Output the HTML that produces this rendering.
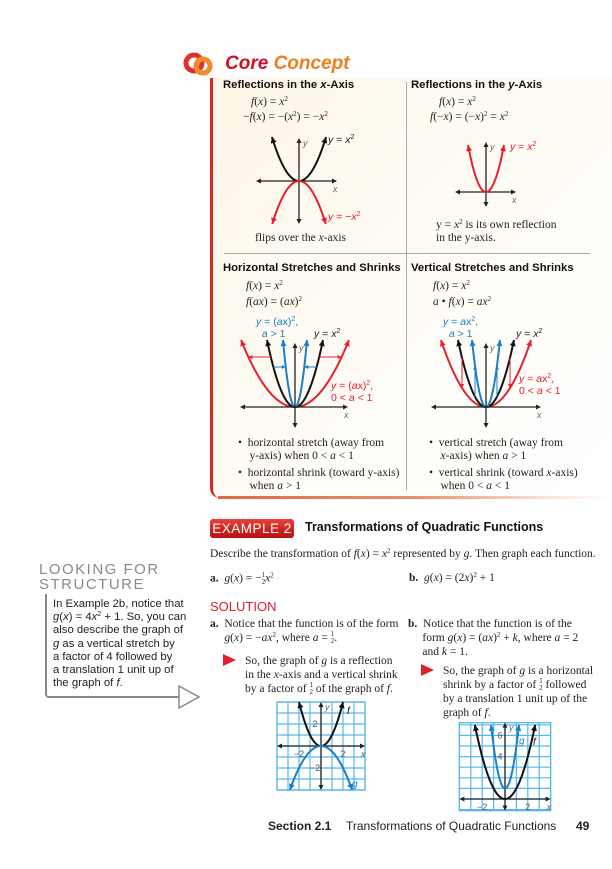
<!DOCTYPE html>
<html><head><meta charset="utf-8">
<style>
body{margin:0;width:612px;height:869px;position:relative;background:#fff;overflow:hidden;font-family:"Liberation Serif",serif;color:#222}
.t{position:absolute;white-space:nowrap;font-size:11.5px;line-height:13px}
.s{font-family:"Liberation Sans",sans-serif}
.h{font-family:"Liberation Sans",sans-serif;font-weight:bold;font-size:11.3px;color:#111}
.lbl{font-family:"Liberation Sans",sans-serif;font-size:10.5px;line-height:12px}
.red{color:#e8202e}.blue{color:#1a7fc8}
i{font-style:italic}
sup{font-size:7px;vertical-align:4px;line-height:0}
.fr{display:inline-block;font-size:7px;line-height:7px;vertical-align:middle;text-align:center}
</style></head><body>
<div style="position:absolute;left:210px;top:78px;width:402px;height:420px;background:linear-gradient(135deg,#fdf6e8,#fffdf8 60%,#fff);border-left:3px solid #d8281c;border-bottom-left-radius:10px"></div>
<div style="position:absolute;left:218px;top:496px;width:394px;height:3px;background:linear-gradient(90deg,#e06a40,#e89070 50%,#fbe6dc 85%,#fff)"></div>
<div style="position:absolute;left:406px;top:82px;width:1px;height:408px;background:#aaa"></div>
<div style="position:absolute;left:224px;top:253px;width:366px;height:1px;background:#aaa"></div>

<svg style="position:absolute;left:183px;top:50px" width="40" height="30"><circle cx="11" cy="13" r="8" fill="none" stroke="#e0302a" stroke-width="5"/><circle cx="20" cy="16" r="7" fill="none" stroke="#f08a2a" stroke-width="5"/></svg>
<div class="t" style="left:225px;top:52px;font-family:'Liberation Sans',sans-serif;font-weight:bold;font-style:italic;font-size:19px;line-height:24px"><span style="color:#d0102a">Core</span> <span style="color:#f07c1c">Concept</span></div>

<div class="t h" style="left:223px;top:79px">Reflections in the <i>x</i>-Axis</div>
<div class="t h" style="left:411px;top:79px">Reflections in the <i>y</i>-Axis</div>
<div class="t" style="left:251px;top:96px"><i>f</i>(<i>x</i>) = <i>x</i><sup>2</sup></div>
<div class="t" style="left:243px;top:111px">−<i>f</i>(<i>x</i>) = −(<i>x</i><sup>2</sup>) = −<i>x</i><sup>2</sup></div>
<div class="t" style="left:439px;top:96px"><i>f</i>(<i>x</i>) = <i>x</i><sup>2</sup></div>
<div class="t" style="left:430px;top:111px"><i>f</i>(−<i>x</i>) = (−<i>x</i>)<sup>2</sup> = <i>x</i><sup>2</sup></div>
<div class="t" style="left:255px;top:232px">flips over the <i>x</i>-axis</div>
<div class="t" style="left:436px;top:219px">y = <i>x</i><sup>2</sup> is its own reflection<br>in the y-axis.</div>

<div class="t lbl" style="left:328px;top:134px"><i>y</i> = <i>x</i><sup>2</sup></div>
<div class="t lbl red" style="left:328px;top:211px"><i>y</i> = −<i>x</i><sup>2</sup></div>
<div class="t lbl red" style="left:510px;top:141px"><i>y</i> = <i>x</i><sup>2</sup></div>

<div class="t h" style="left:223px;top:262px">Horizontal Stretches and Shrinks</div>
<div class="t h" style="left:411px;top:262px">Vertical Stretches and Shrinks</div>
<div class="t" style="left:246px;top:280px"><i>f</i>(<i>x</i>) = <i>x</i><sup>2</sup></div>
<div class="t" style="left:246px;top:296px"><i>f</i>(<i>ax</i>) = (<i>ax</i>)<sup>2</sup></div>
<div class="t" style="left:433px;top:280px"><i>f</i>(<i>x</i>) = <i>x</i><sup>2</sup></div>
<div class="t" style="left:433px;top:296px"><i>a</i> • <i>f</i>(<i>x</i>) = <i>ax</i><sup>2</sup></div>

<div class="t lbl blue" style="left:256px;top:316px"><i>y</i> = (<i>a</i>x)<sup>2</sup>,<br>&nbsp;&nbsp;<i>a</i> &gt; 1</div>
<div class="t lbl" style="left:314px;top:328px"><i>y</i> = <i>x</i><sup>2</sup></div>
<div class="t lbl red" style="left:331px;top:380px"><i>y</i> = (<i>a</i>x)<sup>2</sup>,<br>0 &lt; <i>a</i> &lt; 1</div>
<div class="t lbl blue" style="left:443px;top:316px"><i>y</i> = <i>a</i>x<sup>2</sup>,<br>&nbsp;&nbsp;<i>a</i> &gt; 1</div>
<div class="t lbl" style="left:516px;top:328px"><i>y</i> = <i>x</i><sup>2</sup></div>
<div class="t lbl red" style="left:519px;top:373px"><i>y</i> = <i>a</i>x<sup>2</sup>,<br>0 &lt; <i>a</i> &lt; 1</div>

<div class="t" style="left:238px;top:437px">•&nbsp; horizontal stretch (away from<br>&nbsp;&nbsp;&nbsp;&nbsp;y-axis) when 0 &lt; <i>a</i> &lt; 1</div>
<div class="t" style="left:238px;top:467px">•&nbsp; horizontal shrink (toward y-axis)<br>&nbsp;&nbsp;&nbsp;&nbsp;when <i>a</i> &gt; 1</div>
<div class="t" style="left:429px;top:437px">•&nbsp; vertical stretch (away from<br>&nbsp;&nbsp;&nbsp;&nbsp;<i>x</i>-axis) when <i>a</i> &gt; 1</div>
<div class="t" style="left:429px;top:467px">•&nbsp; vertical shrink (toward <i>x</i>-axis)<br>&nbsp;&nbsp;&nbsp;&nbsp;when 0 &lt; <i>a</i> &lt; 1</div>

<div class="t s" style="left:210px;top:519px;width:84px;height:19px;line-height:19px;text-align:center;background:linear-gradient(#e8403a,#b8100e);color:#fff;font-size:13.5px;border-radius:3px;letter-spacing:0.5px">EXAMPLE 2</div>
<div class="t h" style="left:305px;top:521px;font-size:12.5px">Transformations of Quadratic Functions</div>
<div class="t" style="left:210px;top:548px">Describe the transformation of <i>f</i>(<i>x</i>) = <i>x</i><sup>2</sup> represented by <i>g</i>. Then graph each function.</div>
<div class="t" style="left:210px;top:572px"><b>a.</b>&nbsp; <i>g</i>(<i>x</i>) = −<span class="fr">1<br>2</span><i>x</i><sup>2</sup></div>
<div class="t" style="left:409px;top:572px"><b>b.</b>&nbsp; <i>g</i>(<i>x</i>) = (2<i>x</i>)<sup>2</sup> + 1</div>
<div class="t s" style="left:210px;top:599px;color:#e0202a;font-size:13px;line-height:15px">SOLUTION</div>
<div class="t" style="left:210px;top:617px;line-height:14px"><b>a.</b>&nbsp; Notice that the function is of the form<br>&nbsp;&nbsp;&nbsp;&nbsp;&nbsp;<i>g</i>(<i>x</i>) = −<i>ax</i><sup>2</sup>, where <i>a</i> = <span class="fr">1<br>2</span>.</div>
<div class="t" style="left:408px;top:617px;line-height:14px"><b>b.</b>&nbsp; Notice that the function is of the<br>&nbsp;&nbsp;&nbsp;&nbsp;&nbsp;form <i>g</i>(<i>x</i>) = (<i>ax</i>)<sup>2</sup> + <i>k</i>, where <i>a</i> = 2<br>&nbsp;&nbsp;&nbsp;&nbsp;&nbsp;and <i>k</i> = 1.</div>
<svg style="position:absolute;left:223px;top:654px" width="14" height="14"><polygon points="0,0 13,6 0,12" fill="#e0202a"/></svg>
<svg style="position:absolute;left:421px;top:664px" width="14" height="14"><polygon points="0,0 13,6 0,12" fill="#e0202a"/></svg>
<div class="t" style="left:245px;top:654px;line-height:14px">So, the graph of <i>g</i> is a reflection<br>in the <i>x</i>-axis and a vertical shrink<br>by a factor of <span class="fr">1<br>2</span> of the graph of <i>f</i>.</div>
<div class="t" style="left:443px;top:664px;line-height:14px">So, the graph of <i>g</i> is a horizontal<br>shrink by a factor of <span class="fr">1<br>2</span> followed<br>by a translation 1 unit up of the<br>graph of <i>f</i>.</div>

<div class="t s" style="left:39px;top:562px;color:#8a8a8a;font-size:15px;line-height:15px;letter-spacing:1.5px">LOOKING FOR<br>STRUCTURE</div>
<div style="position:absolute;left:45px;top:594px;width:135px;height:102px;border-left:2px solid #888;border-bottom:2px solid #888;border-bottom-left-radius:4px"></div>
<svg style="position:absolute;left:178px;top:685px" width="24" height="24"><polygon points="1,1 21,12 1,23" fill="#fff" stroke="#888" stroke-width="1.5"/></svg>
<div class="t s" style="left:53px;top:598px;font-size:11.3px;line-height:13.2px;color:#222">In Example 2b, notice that<br><i>g</i>(<i>x</i>) = 4<i>x</i><sup>2</sup> + 1. So, you can<br>also describe the graph of<br><i>g</i> as a vertical stretch by<br>a factor of 4 followed by<br>a translation 1 unit up of<br>the graph of <i>f</i>.</div>

<div class="t s" style="left:268px;top:820px;font-size:12px;font-weight:bold">Section 2.1</div>
<div class="t s" style="left:346px;top:820px;font-size:12px">Transformations of Quadratic Functions</div>
<div class="t s" style="left:576px;top:820px;font-size:12px;font-weight:bold">49</div>

<svg id="plots" width="612" height="869" style="position:absolute;left:0;top:0"></svg>
<script>
// Graph 1: reflection in x-axis (a coefficients)
const g1Coef=[0.6,-0.6];
const g1Colors=['#111','#e8202e'];
// Graph 2: reflection in y-axis
const g2Coef=[1.45];
// Graph 3: horizontal stretch/shrink (red, black, blue)
const g3Coef=[0.23,0.855,4.65];
// Graph 4: vertical stretch/shrink
const g4Coef=[0.33,0.855,3.42];
const triColors=['#e8202e','#111','#1a7fc8'];
// Example a: f and g
const exAFns=[[1,0],[-0.5,0]];
const exATicks=[-2,2];
// Example b: f and g  [coefficient, k]
const exBFns=[[1,0],[4,1]];
const exBYTicks=[4,6];
const exBXTicks=[-2,2];

const NS='http://www.w3.org/2000/svg';
const svg=document.getElementById('plots');
function el(tag,attrs,parent){const e=document.createElementNS(NS,tag);for(const k in attrs)e.setAttribute(k,attrs[k]);(parent||svg).appendChild(e);return e;}
function head(x,y,ang,color,size){
  const s=size||5;
  const p=[[x,y],[x-s*Math.cos(ang)+s*0.5*Math.sin(ang),y-s*Math.sin(ang)-s*0.5*Math.cos(ang)],[x-s*Math.cos(ang)-s*0.5*Math.sin(ang),y-s*Math.sin(ang)+s*0.5*Math.cos(ang)]];
  const h=el('polygon',{points:p.map(q=>q.join(',')).join(' '),fill:color});
  
  
}
function axes(ax){
  const X=v=>ax.ox+v*ax.sx, Y=v=>ax.oy-v*ax.sy;
  const a=el('line',{x1:X(ax.x0)+4,y1:ax.oy,x2:X(ax.x1)-4,y2:ax.oy,stroke:'#222','stroke-width':1.3});
  
  
  head(X(ax.x1),ax.oy,0,'#222');head(X(ax.x0),ax.oy,Math.PI,'#222');
  const b=el('line',{x1:ax.ox,y1:Y(ax.y0)-4,x2:ax.ox,y2:Y(ax.y1)+4,stroke:'#222','stroke-width':1.3});
  
  
  head(ax.ox,Y(ax.y1),-Math.PI/2,'#222');head(ax.ox,Y(ax.y0),Math.PI/2,'#222');
  const tx=el('text',{x:X(ax.x1)-4,y:ax.oy+11,'font-size':9,'font-style':'italic','font-family':'Liberation Sans',fill:'#666'});tx.textContent='x';
  
  
  const ty=el('text',{x:ax.ox+4,y:Y(ax.y1)+8,'font-size':9,'font-style':'italic','font-family':'Liberation Sans',fill:'#666'});ty.textContent='y';
  
  
}
function parab(ax,a,k,yEnd,color,name,w){
  const X=v=>ax.ox+v*ax.sx, Y=v=>ax.oy-v*ax.sy;
  const xe=Math.sqrt((yEnd-k)/a);
  let d='';
  for(let i=0;i<=60;i++){const x=-xe+2*xe*i/60;const y=a*x*x+k;d+=(i?'L':'M')+X(x).toFixed(2)+','+Y(y).toFixed(2);}
  const p=el('path',{d:d,fill:'none',stroke:color,'stroke-width':w||2});
  
  
  const sl=2*a*xe*ax.sy/ax.sx;
  const ang=Math.atan2(-sl,1);
  head(X(xe),Y(yEnd),ang,color,6);
  head(X(-xe),Y(yEnd),Math.PI-ang,color,6);
}
const A1={ox:299,oy:181,sx:10,sy:10,x0:-4.3,x1:3.8,y0:-4.3,y1:4.3};
axes(A1);
g1Coef.forEach((a,i)=>parab(A1,a,0,a>0?4.4:-4.3,g1Colors[i],i?'curve-neg-x2':'curve-x2'));
const A2={ox:486,oy:192,sx:10,sy:10,x0:-3.1,x1:3.0,y0:-1.5,y1:5.0};
axes(A2);
g2Coef.forEach(a=>parab(A2,a,0,4.7,'#e8202e','curve-x2-red'));
const A3={ox:295,oy:407,sx:10,sy:10,x0:-5.5,x1:5.3,y0:-2.1,y1:6.4};
g3Coef.forEach((a,i)=>parab(A3,a,0,6.7,triColors[i],'h-curve-'+i));
axes(A3);
function harrow(ax,y,aFrom,aTo,color){
  [1,-1].forEach(sg=>{
    const x1=ax.ox+sg*Math.sqrt(y/aFrom)*ax.sx, x2=ax.ox+sg*Math.sqrt(y/aTo)*ax.sx, yy=ax.oy-y*ax.sy;
    const l=el('line',{x1:x1,y1:yy,x2:x2,y2:yy,stroke:color,'stroke-width':1});
    
    
    head(x2,yy,x2>x1?0:Math.PI,color,4);
  });
}
harrow(A3,5.0,g3Coef[1],g3Coef[0],'#e8202e');
harrow(A3,4.0,g3Coef[1],g3Coef[2],'#1a7fc8');
const A4={ox:486,oy:407,sx:10,sy:10,x0:-5.5,x1:5.5,y0:-2.1,y1:6.4};
g4Coef.forEach((a,i)=>parab(A4,a,0,6.7,triColors[i],'v-curve-'+i));
axes(A4);
function varrow(ax,x,aFrom,aTo,color){
  [1,-1].forEach(sg=>{
    const xx=ax.ox+sg*x*ax.sx, y1=ax.oy-aFrom*x*x*ax.sy, y2=ax.oy-aTo*x*x*ax.sy;
    const l=el('line',{x1:xx,y1:y1,x2:xx,y2:y2,stroke:color,'stroke-width':1});
    
    
    head(xx,y2,y2>y1?Math.PI/2:-Math.PI/2,color,4);
  });
}
varrow(A4,2.4,g4Coef[1],g4Coef[0],'#e8202e');
varrow(A4,1.1,g4Coef[1],g4Coef[2],'#1a7fc8');

function grid(ax,name){
  const g=el('g',{});
  
  
  const X=v=>ax.ox+v*ax.sx, Y=v=>ax.oy-v*ax.sy;
  el('rect',{x:X(ax.x0),y:Y(ax.y1),width:(ax.x1-ax.x0)*ax.sx,height:(ax.y1-ax.y0)*ax.sy,fill:'#fff',stroke:'#5ab8e8','stroke-width':1.3},g);
  for(let x=Math.ceil(ax.x0);x<=ax.x1;x++)el('line',{x1:X(x),x2:X(x),y1:Y(ax.y0),y2:Y(ax.y1),stroke:'#5ab8e8','stroke-width':1.2},g);
  for(let y=Math.ceil(ax.y0);y<=ax.y1;y++)el('line',{y1:Y(y),y2:Y(y),x1:X(ax.x0),x2:X(ax.x1),stroke:'#5ab8e8','stroke-width':1.2},g);
}
function tick(x,y,txt){const t=el('text',{x:x,y:y,'font-size':9,'font-family':'Liberation Sans',fill:'#555','text-anchor':'middle'});t.textContent=txt;
  
  }
const EA={ox:321,oy:746,sx:11,sy:11,x0:-4,x1:4,y0:-4,y1:4};
grid(EA,'graph-a-grid');
axes(EA);
exAFns.forEach((f,i)=>parab(EA,f[0],f[1],f[0]>0?4:-4,i?'#1a7fc8':'#111',i?'curve-g':'curve-f'));
exATicks.forEach(v=>{tick(EA.ox+v*EA.sx,EA.oy+11,v<0?'−'+(-v):v);tick(EA.ox-6,EA.oy-v*EA.sy+3,v<0?'−'+(-v):v);});
const la=el('text',{x:347,y:714,'font-size':10,'font-style':'italic','font-family':'Liberation Sans',fill:'#111'});la.textContent='f';

const lg=el('text',{x:352,y:787,'font-size':10,'font-style':'italic','font-family':'Liberation Sans',fill:'#1a7fc8'});lg.textContent='g';

const EB={ox:505,oy:799,sx:11.4,sy:10.6,x0:-4,x1:4,y0:-1.1,y1:7.2};
grid(EB,'graph-b-grid');
axes(EB);
exBFns.forEach((f,i)=>parab(EB,f[0],f[1],7,i?'#1a7fc8':'#111',i?'curve-g':'curve-f'));
exBXTicks.forEach(v=>tick(EB.ox+v*EB.sx,EB.oy+11,v<0?'−'+(-v):v));
exBYTicks.forEach(v=>tick(EB.ox-5,EB.oy-v*EB.sy+3,v));
const lbf=el('text',{x:533,y:745,'font-size':10,'font-style':'italic','font-family':'Liberation Sans',fill:'#111'});lbf.textContent='f';

const lbg=el('text',{x:519,y:744,'font-size':10,'font-style':'italic','font-family':'Liberation Sans',fill:'#1a7fc8'});lbg.textContent='g';

</script>
</body></html>
